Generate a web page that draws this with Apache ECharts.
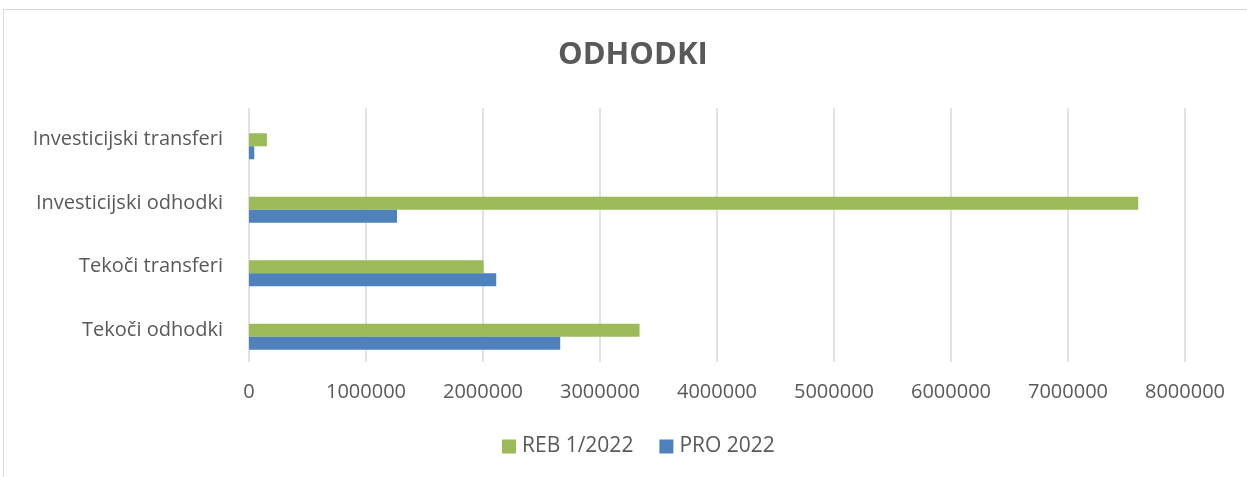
<!DOCTYPE html>
<html>
<head>
<meta charset="utf-8">
<script src="https://cdn.jsdelivr.net/npm/echarts@6/dist/echarts.min.js"></script>
<style>
  html, body { margin: 0; padding: 0; background: #fff; overflow: hidden; }
  #okvir { position: absolute; left: 3px; top: 9px; width: 1400px; height: 600px; border: 1px solid #d9d9d9; }
  #graf { position: absolute; left: 0; top: 0; width: 1247px; height: 477px; }
</style>
</head>
<body>
<div id="okvir"></div>
<div id="graf"></div>
<script>
// kategorije od spodaj navzgor
const kategorije = ["Tekoči odhodki", "Tekoči transferi", "Investicijski odhodki", "Investicijski transferi"];
const pro2022 = [2660000, 2113000, 1265000, 45000];
const reb2022 = [3338000, 2005000, 7600000, 153000];
const prazno = [null, null, null, null]; // prazna serija v Excelu (zasede prostor)
const osMin = 0;
const osMax = 8000000;
const osKorak = 1000000;

const barva = "#595959";
const pisava = "'Open Sans', 'Noto Sans', sans-serif";

let myChart = echarts.init(document.getElementById("graf"));

let option = {
  animation: false,
  title: {
    text: "ODHODKI",
    left: 558,
    top: 40,
    padding: 0,
    textStyle: { fontFamily: pisava, fontSize: 31, fontWeight: "bold", color: barva }
  },
  legend: {
    data: ["REB 1/2022", "PRO 2022"],
    left: 502,
    top: 436,
    padding: 0,
    itemWidth: 14,
    itemHeight: 14,
    itemGap: 26,
    icon: "rect",
    textStyle: { fontFamily: pisava, fontSize: 21, color: barva, padding: [0, 0, 0, 1] }
  },
  grid: {
    left: 249,
    right: 62,
    top: 108,
    bottom: 115,
    containLabel: false
  },
  xAxis: {
    type: "value",
    min: osMin,
    max: osMax,
    interval: osKorak,
    axisLine: { show: false },
    axisTick: { show: false },
    splitLine: { show: true, lineStyle: { color: "#d9d9d9", width: 1.5 } },
    axisLabel: {
      margin: 20,
      fontFamily: pisava,
      fontSize: 20,
      color: barva,
      formatter: function (v) { return String(v); }
    }
  },
  yAxis: {
    type: "category",
    data: kategorije,
    axisLine: { show: false },
    axisTick: { show: false },
    axisLabel: { margin: 26, fontFamily: pisava, fontSize: 20, color: barva }
  },
  series: [
    { name: "prazno", type: "bar", data: prazno, barWidth: 13, barGap: 0 },
    { name: "REB 1/2022", type: "bar", data: reb2022, barWidth: 13, barGap: 0, itemStyle: { color: "#9bbb59" } },
    { name: "PRO 2022", type: "bar", data: pro2022, barWidth: 13, barGap: 0, itemStyle: { color: "#4f81bd" } }
  ]
};

myChart.setOption(option);
</script>
</body>
</html>
